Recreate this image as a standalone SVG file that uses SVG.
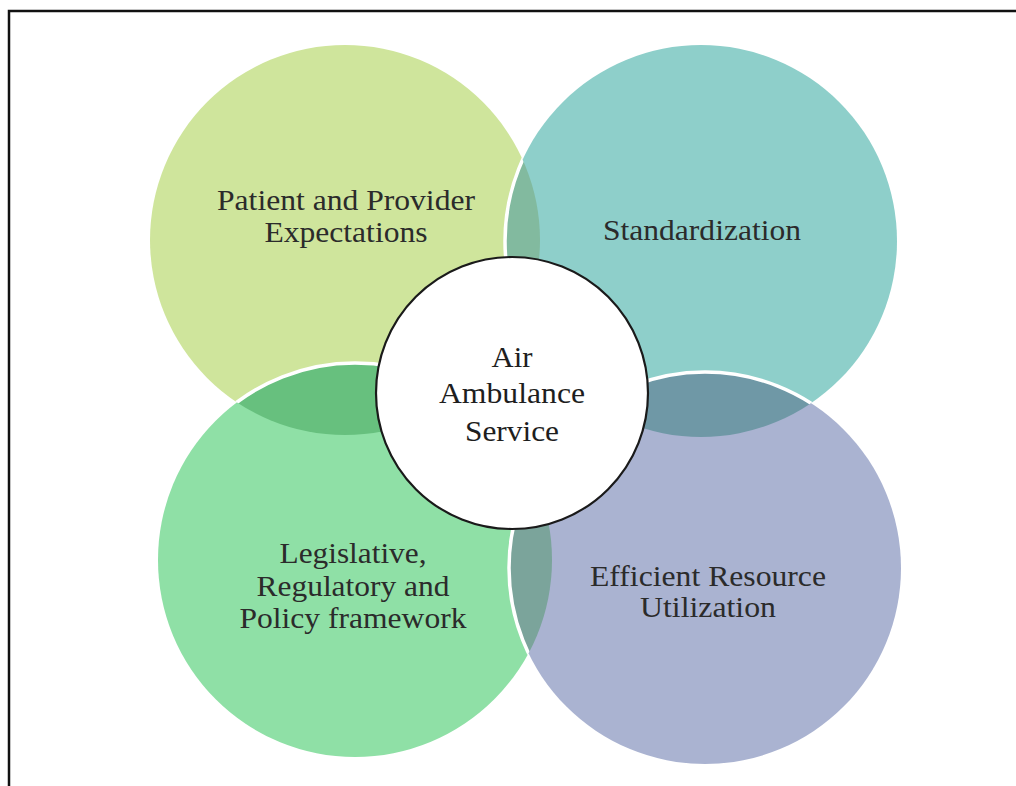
<svg xmlns="http://www.w3.org/2000/svg" width="1016" height="786" viewBox="0 0 1016 786">
  <style>
    .lbl { font-size: 29px; fill: #2b2b2b; text-anchor: middle; }
    .core { font-size: 29.5px; fill: #1e1e1e; }
    .rim { fill: none; stroke: #ffffff; stroke-width: 3.5; }
  </style>
  <defs>
    <clipPath id="clipTL"><circle cx="345" cy="240" r="195"/></clipPath>
    <clipPath id="clipTR"><circle cx="701" cy="241" r="196"/></clipPath>
    <clipPath id="clipBL"><circle cx="355" cy="560" r="197"/></clipPath>
  </defs>

  <rect width="1016" height="786" fill="#ffffff"/>
  <!-- page frame (runs off the right and bottom edges) -->
  <rect x="9" y="11" width="1030" height="820" fill="none" stroke="#111111" stroke-width="2.5"/>

  <g font-family="'Liberation Serif', serif">
  <g id="patient-expectations">
    <circle cx="345" cy="240" r="195" fill="#cfe59c"/>
    <text class="lbl" x="346" y="210" textLength="258" lengthAdjust="spacingAndGlyphs">Patient and Provider</text>
    <text class="lbl" x="346" y="242" textLength="163" lengthAdjust="spacingAndGlyphs">Expectations</text>
  </g>

  <g id="standardization">
    <circle cx="701" cy="241" r="196" fill="#8ecfca"/>
    <circle cx="701" cy="241" r="196" fill="#82ba9f" clip-path="url(#clipTL)"/>
    <circle class="rim" cx="701" cy="241" r="196" clip-path="url(#clipTL)"/>
    <text class="lbl" x="702" y="240" textLength="198" lengthAdjust="spacingAndGlyphs">Standardization</text>
  </g>

  <g id="legislative-framework">
    <circle cx="355" cy="560" r="197" fill="#8fe0a6"/>
    <circle cx="355" cy="560" r="197" fill="#67c07e" clip-path="url(#clipTL)"/>
    <circle class="rim" cx="355" cy="560" r="197" clip-path="url(#clipTL)"/>
    <text class="lbl" x="353" y="563" textLength="147" lengthAdjust="spacingAndGlyphs">Legislative,</text>
    <text class="lbl" x="353" y="596" textLength="193" lengthAdjust="spacingAndGlyphs">Regulatory and</text>
    <text class="lbl" x="353" y="628" textLength="227" lengthAdjust="spacingAndGlyphs">Policy framework</text>
  </g>

  <g id="resource-utilization">
    <circle cx="705" cy="568" r="196" fill="#aab3d1"/>
    <circle cx="705" cy="568" r="196" fill="#6f98a6" clip-path="url(#clipTR)"/>
    <circle cx="705" cy="568" r="196" fill="#7ba49b" clip-path="url(#clipBL)"/>
    <circle class="rim" cx="705" cy="568" r="196" clip-path="url(#clipTR)"/>
    <circle class="rim" cx="705" cy="568" r="196" clip-path="url(#clipBL)"/>
    <text class="lbl" x="708" y="586" textLength="236" lengthAdjust="spacingAndGlyphs">Efficient Resource</text>
    <text class="lbl" x="708" y="617" textLength="136" lengthAdjust="spacingAndGlyphs">Utilization</text>
  </g>

  <g id="air-ambulance-service">
    <circle cx="512" cy="393" r="136" fill="#ffffff" stroke="#1a1a1a" stroke-width="2.2"/>
    <text class="lbl core" x="512" y="367" textLength="41" lengthAdjust="spacingAndGlyphs">Air</text>
    <text class="lbl core" x="512" y="403" textLength="146" lengthAdjust="spacingAndGlyphs">Ambulance</text>
    <text class="lbl core" x="512" y="441" textLength="94" lengthAdjust="spacingAndGlyphs">Service</text>
  </g>
  </g>

  <!-- the diagram has no connectors -->
  <g id="connectors"/>
</svg>
